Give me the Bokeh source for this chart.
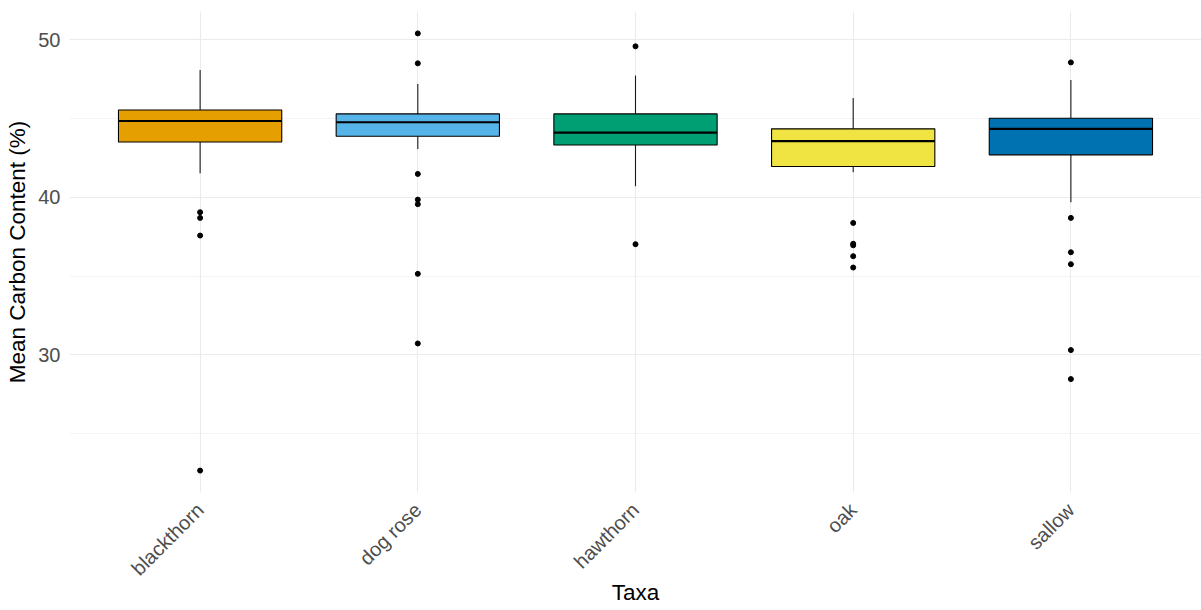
import math
from bokeh.plotting import figure
from bokeh.models import Range1d, FixedTicker, ColumnDataSource
from bokeh.embed import file_html
from bokeh.resources import INLINE

taxa = ["blackthorn", "dog rose", "hawthorn", "oak", "sallow"]
colors = ["#E69F00", "#56B4E9", "#009E73", "#F0E442", "#0072B2"]
q1 = [43.51, 43.87, 43.32, 41.95, 42.69]
median = [44.84, 44.76, 44.10, 43.56, 44.34]
q3 = [45.54, 45.29, 45.29, 44.34, 45.01]
whisk_lo = [41.52, 43.07, 40.70, 41.59, 39.68]
whisk_hi = [48.08, 47.19, 47.72, 46.30, 47.44]
outliers = {
    "blackthorn": [39.05, 38.69, 37.57, 22.65],
    "dog rose": [50.40, 48.50, 41.48, 39.85, 39.56, 35.14, 30.72],
    "hawthorn": [49.58, 37.02],
    "oak": [38.37, 37.05, 36.95, 36.26, 35.54],
    "sallow": [48.56, 38.69, 36.51, 35.75, 30.30, 28.46],
}
y_ticks = [30, 40, 50]
y_minor = [25, 35, 45]

xs = list(range(1, len(taxa) + 1))
half = 0.75 / 2

p = figure(width=1201, height=610, output_backend="svg", toolbar_location=None,
           x_range=Range1d(0.4, 5.6), y_range=Range1d(21.26, 51.79),
           min_border_left=69, min_border_right=0, min_border_top=11,
           min_border_bottom=118)
p.outline_line_color = None
p.background_fill_color = "white"

p.xaxis.ticker = FixedTicker(ticks=xs)
p.xaxis.major_label_overrides = {i: t for i, t in zip(xs, taxa)}
p.yaxis.ticker = FixedTicker(ticks=y_ticks, minor_ticks=y_minor)
p.xgrid.grid_line_color = "#EBEBEB"
p.xgrid.grid_line_width = 1.1
p.ygrid.grid_line_color = "#EBEBEB"
p.ygrid.grid_line_width = 1.1
p.ygrid.minor_grid_line_color = "#EBEBEB"
p.ygrid.minor_grid_line_width = 0.6

for ax in (p.xaxis, p.yaxis):
    ax.axis_line_color = None
    ax.major_tick_line_color = None
    ax.minor_tick_line_color = None
    ax.major_label_text_font = "Liberation Sans"
    ax.major_label_text_font_size = "20px"
    ax.major_label_text_color = "#4D4D4D"
    ax.axis_label_text_font = "Liberation Sans"
    ax.axis_label_text_font_size = "22.5px"
    ax.axis_label_text_font_style = "normal"
    ax.axis_label_text_color = "black"

p.xaxis.axis_label = "Taxa"
p.yaxis.axis_label = "Mean Carbon Content (%)"
p.xaxis.major_label_orientation = math.pi / 4
p.xaxis.major_label_standoff = 8
p.yaxis.major_label_standoff = 3
p.xaxis.axis_label_standoff = -10
p.yaxis.axis_label_standoff = 5

src = ColumnDataSource(dict(x=xs, q1=q1, med=median, q3=q3, lo=whisk_lo, hi=whisk_hi,
                            color=colors, xl=[x - half for x in xs], xr=[x + half for x in xs]))

p.segment(x0="x", x1="x", y0="lo", y1="q1", source=src, line_color="#1a1a1a", line_width=1.1)
p.segment(x0="x", x1="x", y0="q3", y1="hi", source=src, line_color="#1a1a1a", line_width=1.1)
p.vbar(x="x", width=0.75, bottom="q1", top="q3", source=src, fill_color="color",
       line_color="black", line_width=1.1)
p.segment(x0="xl", x1="xr", y0="med", y1="med", source=src, line_color="black", line_width=2.2)

ox, oy = [], []
for i, t in enumerate(taxa):
    for v in outliers[t]:
        ox.append(xs[i])
        oy.append(v)
p.scatter(ox, oy, size=5, color="black")

open("out.html", "w").write(file_html(p, INLINE))
